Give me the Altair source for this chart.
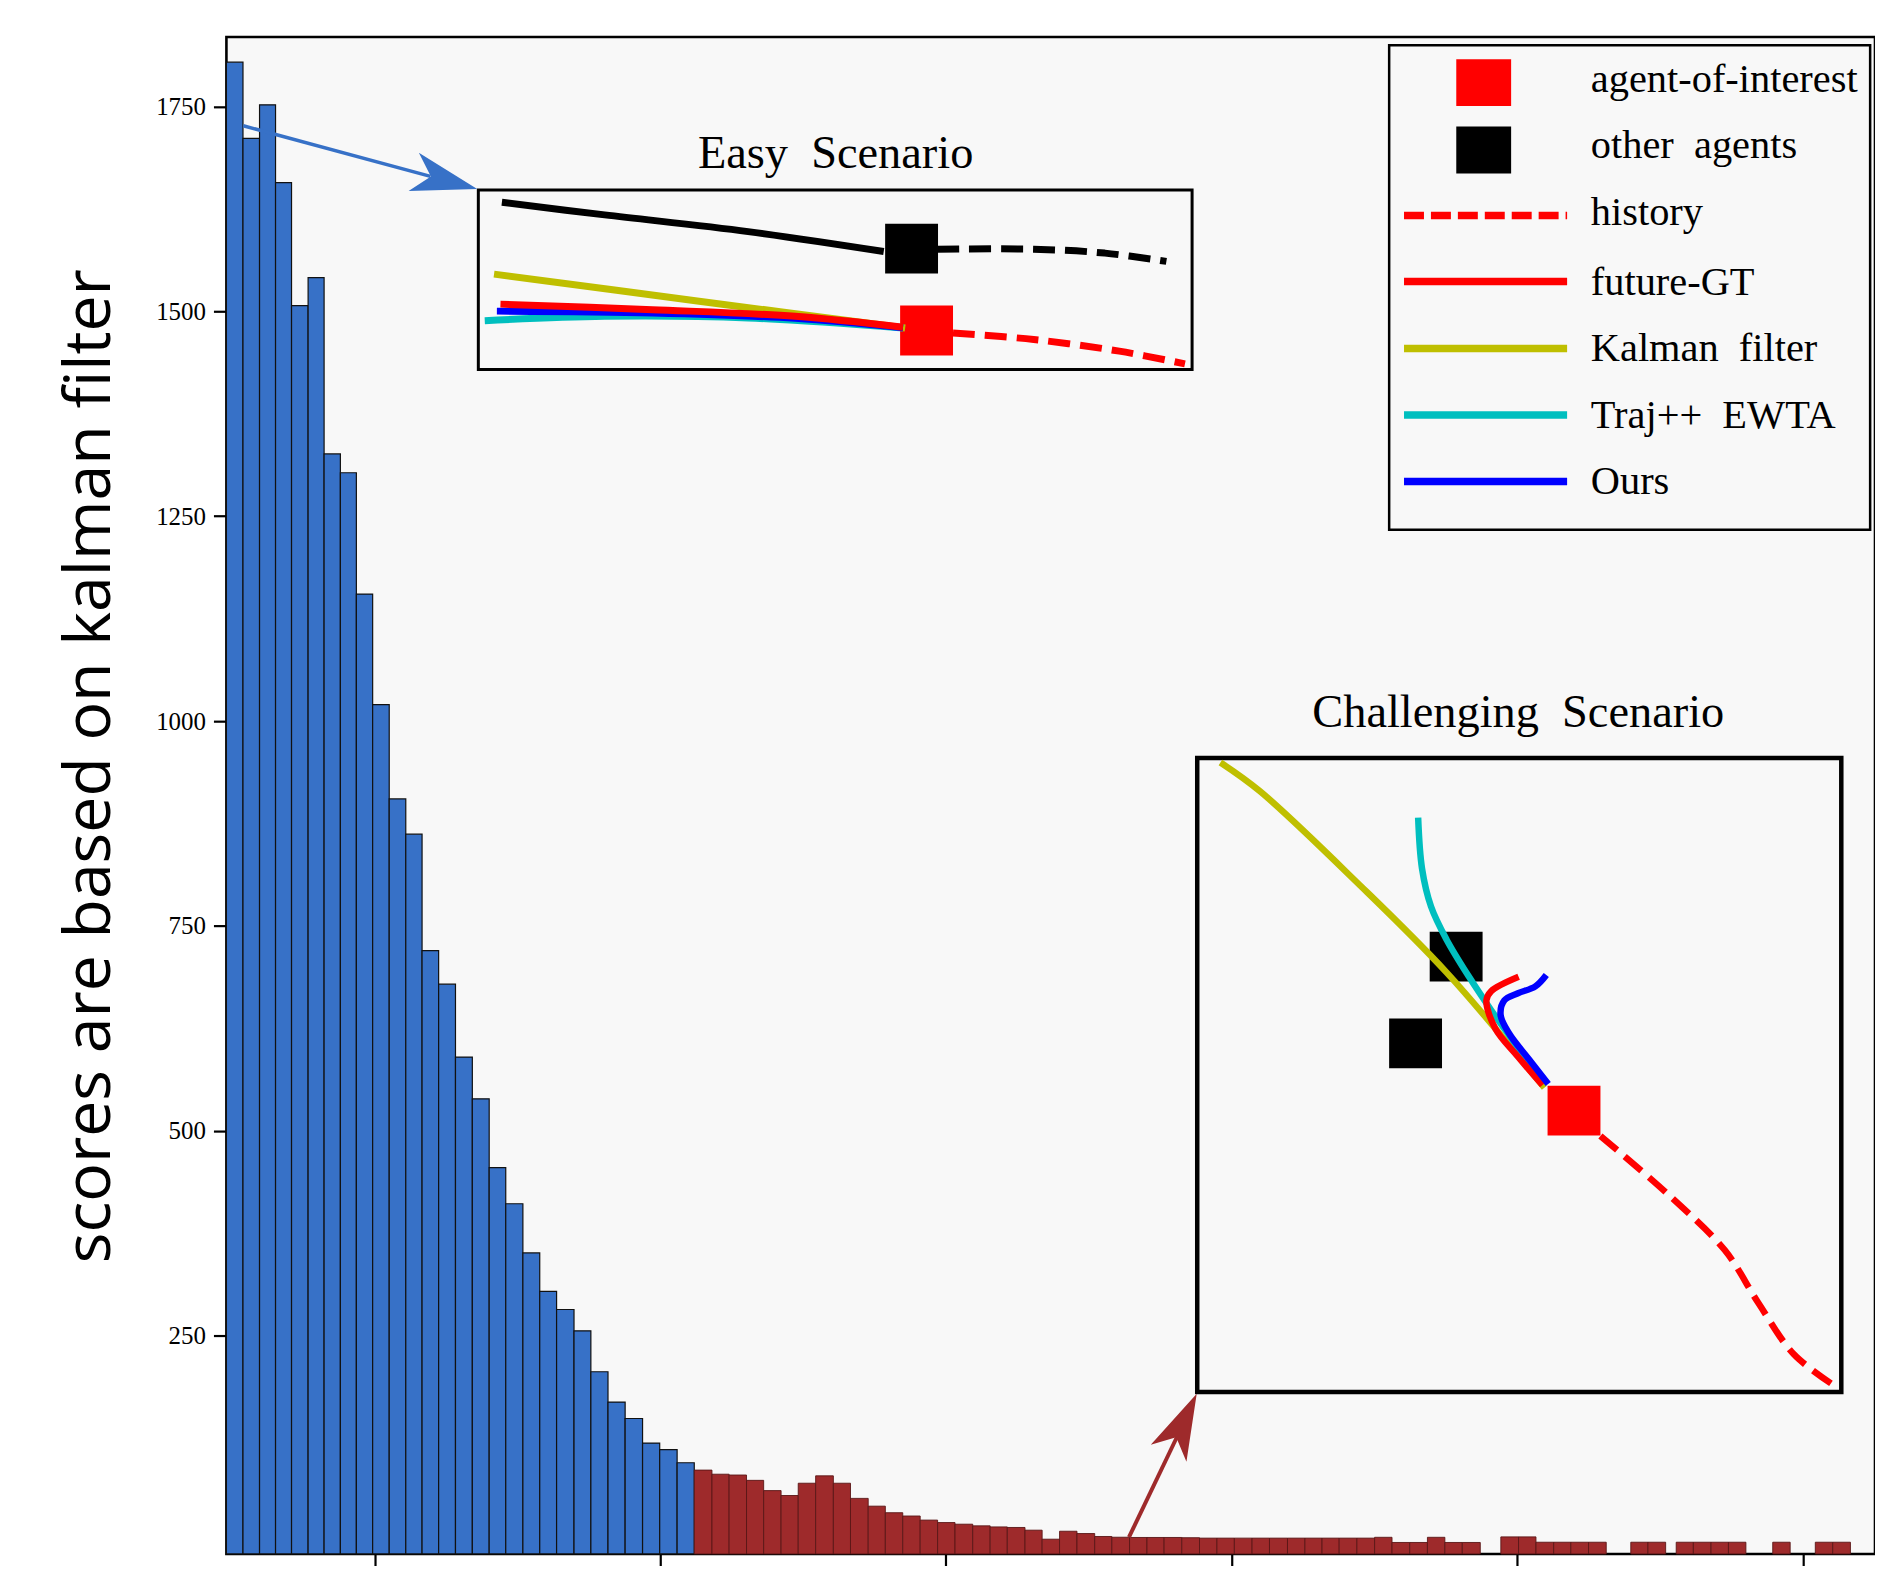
import altair as alt
import pandas as pd

# ---------------- histogram: bar edges on the score axis, bar tops on the count axis
blue_edges = [0.481, 0.539, 0.597, 0.653, 0.709, 0.767, 0.823, 0.880, 0.936, 0.993,
              1.051, 1.109, 1.166, 1.224, 1.283, 1.342, 1.401, 1.459, 1.519, 1.578,
              1.637, 1.698, 1.757, 1.817, 1.877, 1.938, 1.998, 2.059, 2.119]
blue_counts = [1804, 1711, 1752, 1657, 1507, 1541, 1326, 1303, 1155, 1020,
               905, 862, 720, 679, 590, 539, 455, 411, 351, 304,
               282, 256, 206, 169, 149, 119, 111, 95]
red_edges = [2.119, 2.181, 2.241, 2.302, 2.362, 2.423, 2.483, 2.544, 2.606, 2.666,
             2.728, 2.788, 2.849, 2.910, 2.971, 3.032, 3.094, 3.155, 3.215, 3.277,
             3.337, 3.398, 3.459, 3.521, 3.581, 3.643, 3.704, 3.764, 3.826, 3.888,
             3.949, 4.010, 4.072, 4.133, 4.196, 4.257, 4.317, 4.377, 4.439, 4.501,
             4.562, 4.624, 4.686, 4.747, 4.808, 4.871]
red_counts = [86, 81, 80, 73.5, 61, 55, 70, 79, 70, 51.5,
              42, 34, 30, 25, 22, 20, 18, 16.7, 16, 12.7,
              1.7, 11.4, 8.6, 5.0, 4.1, 3.8, 3.8, 3.8, 3.5, 3,
              3, 3, 3, 3, 3, 3, 3, 3, 3, 4,
              -2.3, -2.3, 4, -2.3, -2.3]
tail_left = [4.943, 5.005, 5.066, 5.128, 5.188, 5.250, 5.398, 5.458, 5.557, 5.617,
             5.679, 5.740, 5.895, 6.044, 6.105]
tail_right = [5.005, 5.066, 5.128, 5.188, 5.250, 5.312, 5.458, 5.520, 5.617, 5.679,
              5.740, 5.801, 5.956, 6.105, 6.167]
tail_counts = [4.5, 4.5, -2, -2, -2, -2, -2, -2, -2, -2, -2, -2, -2, -2, -2]

x_tick_values = [1, 2, 3, 4, 5, 6]
y_tick_values = [250, 500, 750, 1000, 1250, 1500, 1750]
x_domain = [0.481, 6.253]
y_domain = [-16.3, 1834.7]
y_title = "scores are based on kalman filter"

# ---------------- inset panels (local coordinates 0-100 inside each box)
easy_box = [1.363, 3.862, 1429.0, 1648.1]      # x0, x1, y0, y1 in main-axis units
chall_box = [3.880, 6.135, 181.2, 954.8]
easy_title = ["Easy\u00a0 Scenario", 2.614, 1675.3]
chall_title = ["Challenging\u00a0 Scenario", 5.004, 992.5]

easy_kalman_u = [2.2, 31.2, 59.8]
easy_kalman_v = [53.1, 37.9, 23.1]
easy_traj_u = [0.9, 17.7, 37.8, 59.5]
easy_traj_v = [27.2, 29.6, 28.7, 23.1]
easy_ours_u = [2.6, 24.4, 44.4, 59.5]
easy_ours_v = [32.5, 31.5, 28.5, 23.3]
easy_gt_u = [3.1, 24.4, 44.4, 59.5]
easy_gt_v = [36.4, 33.3, 29.6, 23.5]
easy_other_u = [3.3, 17.7, 37.8, 56.8]
easy_other_v = [93.1, 86.1, 76.8, 65.7]
easy_hist_u = [66.5, 77.8, 89.8, 99.0]
easy_hist_v = [20.3, 16.7, 10.2, 3.1]
easy_other_hist_u = [64.3, 77.8, 87.8, 96.4]
easy_other_hist_v = [67.0, 67.0, 64.8, 60.2]
easy_agent_uv = [62.8, 21.7]
easy_others_uv = [[60.7, 67.3]]

chall_kalman_u = [3.6, 9.7, 24.9, 38.7, 53.9]
chall_kalman_v = [99.3, 94.8, 80.3, 66.2, 48.0]
chall_traj_u = [34.3, 34.9, 36.3, 38.7, 42.2, 45.6, 49.8, 53.6]
chall_traj_v = [90.6, 82.6, 76.6, 71.4, 65.5, 60.3, 54.3, 48.6]
chall_gt_u = [49.9, 45.6, 44.9, 46.3, 49.8, 53.6]
chall_gt_v = [65.5, 63.2, 61.8, 57.3, 52.9, 48.4]
chall_ours_u = [54.2, 52.5, 49.8, 47.7, 47.1, 48.4, 51.5, 54.5]
chall_ours_v = [65.8, 64.0, 62.9, 61.8, 59.5, 56.6, 52.5, 48.6]
chall_hist_u = [62.6, 73.2, 81.9, 87.1, 92.6, 98.5]
chall_hist_v = [40.4, 31.1, 22.4, 14.1, 6.0, 1.3]
chall_agent_uv = [58.5, 44.4]
chall_others_uv = [[40.2, 68.7], [33.9, 55.0]]

# ---------------- legend (main-axis units)
legend_labels = ["agent-of-interest", "other\u00a0 agents", "history", "future-GT",
                 "Kalman\u00a0 filter", "Traj++\u00a0 EWTA", "Ours"]
legend_label_x = 5.258
legend_label_y = [1767.8, 1686.6, 1605.6, 1520.3, 1439.1, 1357.9, 1276.9]
legend_square_x = 4.883
legend_square_y = [1779.0, 1696.8]
legend_line_x = [4.604, 5.175]
legend_line_y = [1616.8, 1536.5, 1454.6, 1373.4, 1292.3]
legend_box = [4.552, 6.236, 1233.4, 1824.6]

# ---------------- arrows (start, shaft end, head centre, head angle)
blue_arrow = [0.540, 1726.4, 1.1955, 1664.7, 1.248, 1659.7, 105.1]
red_arrow = [3.641, 4.1, 3.8094, 126.7, 3.829, 142.8, 25.3]

BLUE_BAR = "#3771c7"
RED_BAR = "#9e2a2b"
KALMAN = "#bfbf00"
TRAJ = "#00bfbf"
GT = "#ff0000"
OURS = "#0000ff"
BLACK = "#000000"

# ================= build tables
bar_rows = []
for i, c in enumerate(blue_counts):
    bar_rows.append(dict(x0=blue_edges[i], x1=blue_edges[i + 1], top=c, base=y_domain[0],
                         fill=BLUE_BAR, stroke="#111111", sw=1.2))
for i, c in enumerate(red_counts):
    bar_rows.append(dict(x0=red_edges[i], x1=red_edges[i + 1], top=c, base=y_domain[0],
                         fill=RED_BAR, stroke="#5a1616", sw=0.9))
for a, b, c in zip(tail_left, tail_right, tail_counts):
    bar_rows.append(dict(x0=a, x1=b, top=c, base=y_domain[0],
                         fill=RED_BAR, stroke="#5a1616", sw=0.9))
bar_df = pd.DataFrame(bar_rows)


def to_main(box, u, v):
    return box[0] + u / 100.0 * (box[1] - box[0]), box[2] + v / 100.0 * (box[3] - box[2])


def add_line(rows, box, key, us, vs, color):
    for i, (u, v) in enumerate(zip(us, vs)):
        x, y = to_main(box, u, v)
        rows.append(dict(key=key, i=i, x=x, y=y, color=color))


easy_solid, easy_dash, chall_solid, chall_dash, leg_solid, leg_dash = [], [], [], [], [], []
add_line(easy_solid, easy_box, "e1", easy_kalman_u, easy_kalman_v, KALMAN)
add_line(easy_solid, easy_box, "e2", easy_traj_u, easy_traj_v, TRAJ)
add_line(easy_solid, easy_box, "e3", easy_ours_u, easy_ours_v, OURS)
add_line(easy_solid, easy_box, "e4", easy_gt_u, easy_gt_v, GT)
add_line(easy_solid, easy_box, "e5", easy_other_u, easy_other_v, BLACK)
add_line(easy_dash, easy_box, "d1", easy_hist_u, easy_hist_v, GT)
add_line(easy_dash, easy_box, "d2", easy_other_hist_u, easy_other_hist_v, BLACK)
add_line(chall_solid, chall_box, "f1", chall_kalman_u, chall_kalman_v, KALMAN)
add_line(chall_solid, chall_box, "f2", chall_traj_u, chall_traj_v, TRAJ)
add_line(chall_solid, chall_box, "f3", chall_gt_u, chall_gt_v, GT)
add_line(chall_solid, chall_box, "f4", chall_ours_u, chall_ours_v, OURS)
add_line(chall_dash, chall_box, "d3", chall_hist_u, chall_hist_v, GT)
legend_line_colors = [GT, GT, KALMAN, TRAJ, OURS]
for k in range(5):
    for i, xv in enumerate(legend_line_x):
        (leg_dash if k == 0 else leg_solid).append(
            dict(key="g%d" % k, i=i, x=xv, y=legend_line_y[k], color=legend_line_colors[k]))

sq_rows = []
for box, agent, others in [(easy_box, easy_agent_uv, easy_others_uv),
                           (chall_box, chall_agent_uv, chall_others_uv)]:
    x, y = to_main(box, agent[0], agent[1])
    sq_rows.append(dict(x=x, y=y, color=GT))
    for o in others:
        x, y = to_main(box, o[0], o[1])
        sq_rows.append(dict(x=x, y=y, color=BLACK))
sq_df = pd.DataFrame(sq_rows)

leg_sq_df = pd.DataFrame(dict(x=[legend_square_x] * 2, y=legend_square_y, color=[GT, BLACK]))

box_df = pd.DataFrame(dict(x0=[easy_box[0], chall_box[0], legend_box[0]],
                           x1=[easy_box[1], chall_box[1], legend_box[1]],
                           y0=[easy_box[2], chall_box[2], legend_box[2]],
                           y1=[easy_box[3], chall_box[3], legend_box[3]],
                           sw=[3.0, 4.5, 2.5]))

title_df = pd.DataFrame(dict(label=[easy_title[0], chall_title[0]],
                             x=[easy_title[1], chall_title[1]],
                             y=[easy_title[2], chall_title[2]]))
leg_text_df = pd.DataFrame(dict(label=legend_labels, x=[legend_label_x] * len(legend_labels),
                                y=legend_label_y))

blue_shaft_df = pd.DataFrame(dict(i=[0, 1], x=[blue_arrow[0], blue_arrow[2]],
                                  y=[blue_arrow[1], blue_arrow[3]]))
red_shaft_df = pd.DataFrame(dict(i=[0, 1], x=[red_arrow[0], red_arrow[2]],
                                 y=[red_arrow[1], red_arrow[3]]))
head_df = pd.DataFrame(dict(x=[blue_arrow[4], red_arrow[4]], y=[blue_arrow[5], red_arrow[5]],
                            angle=[blue_arrow[6], red_arrow[6]], color=[BLUE_BAR, RED_BAR]))

# ================= scales / axes
xs = alt.Scale(domain=x_domain, nice=False, zero=False)
ys = alt.Scale(domain=y_domain, nice=False, zero=False)
X_AXIS = alt.Axis(values=x_tick_values, labels=False, title=None, domain=False, grid=False,
                  ticks=True, tickSize=12, tickWidth=2.2, tickColor="black")
Y_AXIS = alt.Axis(values=y_tick_values, format="d", title=y_title, domain=False, grid=False,
                  titleFont="Open Sans", titleFontSize=64.5, titleFontWeight="normal",
                  titleColor="black", titleX=-117, titleY=730.6, titleAngle=270,
                  titleAlign="center", titleBaseline="alphabetic",
                  labelFont="Liberation Serif", labelFontSize=25, labelColor="black",
                  labelPadding=8, tickSize=13, tickWidth=2.2, tickColor="black")


def X(f):
    return alt.X(f, type="quantitative", scale=xs, axis=X_AXIS)


def Y(f):
    return alt.Y(f, type="quantitative", scale=ys, axis=Y_AXIS)


def lines(rows, width, dash=None):
    kw = dict(interpolate="catmull-rom", strokeCap="butt", strokeWidth=width)
    if dash is not None:
        kw["strokeDash"] = dash
    return alt.Chart(pd.DataFrame(rows)).mark_line(**kw).encode(
        x=X("x"), y=Y("y"), detail="key:N", order="i:Q",
        color=alt.Color("color:N", scale=None),
    )


bars = alt.Chart(bar_df).mark_rect().encode(
    x=X("x0"), x2="x1", y=Y("top"), y2="base",
    fill=alt.Fill("fill:N", scale=None),
    stroke=alt.Stroke("stroke:N", scale=None),
    strokeWidth=alt.StrokeWidth("sw:Q", scale=None),
)

boxes = alt.Chart(box_df).mark_rect(fillOpacity=0, stroke="black").encode(
    x=X("x0"), x2="x1", y=Y("y0"), y2="y1",
    strokeWidth=alt.StrokeWidth("sw:Q", scale=None),
)

squares = alt.Chart(sq_df).mark_point(
    shape="M-1.04,-0.98L1.04,-0.98L1.04,0.98L-1.04,0.98Z",
    filled=True, size=2600, opacity=1, strokeWidth=0,
).encode(x=X("x"), y=Y("y"), color=alt.Color("color:N", scale=None))

leg_squares = alt.Chart(leg_sq_df).mark_point(
    shape="M-1.1,-0.94L1.1,-0.94L1.1,0.94L-1.1,0.94Z",
    filled=True, size=2500, opacity=1, strokeWidth=0,
).encode(x=X("x"), y=Y("y"), color=alt.Color("color:N", scale=None))

titles = alt.Chart(title_df).mark_text(
    font="Liberation Serif", fontSize=46.5, align="center", baseline="alphabetic", color="black"
).encode(x=X("x"), y=Y("y"), text="label:N")

leg_text = alt.Chart(leg_text_df).mark_text(
    font="Liberation Serif", fontSize=40.5, align="left", baseline="alphabetic", color="black"
).encode(x=X("x"), y=Y("y"), text="label:N")

blue_shaft = alt.Chart(blue_shaft_df).mark_line(strokeCap="butt", strokeWidth=3.5,
                                                color=BLUE_BAR).encode(
    x=X("x"), y=Y("y"), order="i:Q")
red_shaft = alt.Chart(red_shaft_df).mark_line(strokeCap="butt", strokeWidth=4,
                                              color=RED_BAR).encode(
    x=X("x"), y=Y("y"), order="i:Q")

heads = alt.Chart(head_df).mark_point(
    shape="M0,-1L0.6,1L0,0.46L-0.6,1Z", filled=True, size=4350, opacity=1, strokeWidth=0,
).encode(x=X("x"), y=Y("y"), color=alt.Color("color:N", scale=None),
         angle=alt.Angle("angle:Q", scale=None))

chart = alt.layer(
    bars, boxes, squares,
    lines(easy_solid, 7), lines(easy_dash, 7, [22, 10]),
    lines(chall_solid, 6.5), lines(chall_dash, 6.5, [22, 10]),
    lines(leg_solid, 7.5), lines(leg_dash, 7.5, [20, 7]),
    leg_squares, titles, leg_text, blue_shaft, red_shaft, heads
).properties(
    width=1653, height=1521,
    padding={"left": 219, "top": 27, "right": 0, "bottom": 10},
    autosize=alt.AutoSizeParams(type="none"),
    background="white",
).configure_view(
    fill="#f8f8f8", stroke="black", strokeWidth=2.6
)

chart.save("out.html", embed_options={"renderer": "svg", "actions": False})
